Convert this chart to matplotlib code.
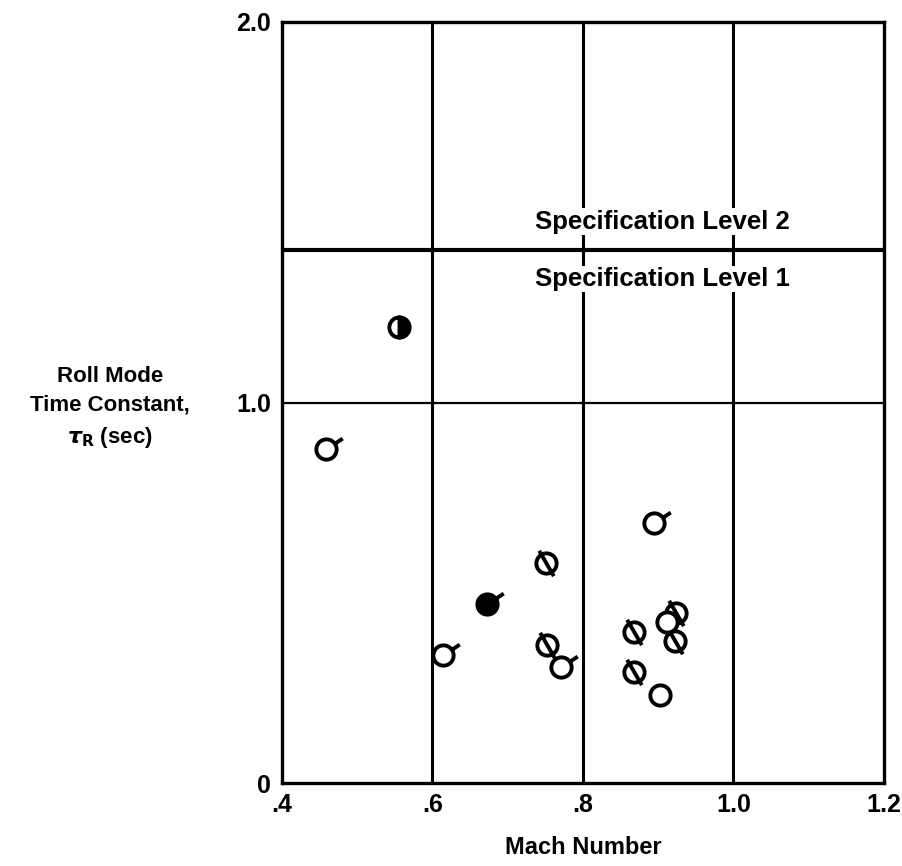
import matplotlib
matplotlib.use('Agg')
import matplotlib.pyplot as plt
from matplotlib.path import Path

plt.rcParams['font.family'] = ['Liberation Sans', 'DejaVu Sans']
plt.rcParams['font.weight'] = 'bold'

# data
flag_x = [0.458, 0.614, 0.771, 0.894]
flag_y = [0.878, 0.336, 0.305, 0.683]
filled_x = [0.672]
filled_y = [0.470]
slash_x = [0.751, 0.752, 0.868, 0.868, 0.924, 0.922]
slash_y = [0.578, 0.363, 0.397, 0.292, 0.447, 0.373]
plain_x = [0.902, 0.912]
plain_y = [0.231, 0.423]
half_x = [0.555]
half_y = [1.198]
spec_level = 1.4

xticks = [0.4, 0.6, 0.8, 1.0, 1.2]
xlabels = ['.4', '.6', '.8', '1.0', '1.2']
yticks = [0, 1.0, 2.0]
ylabels = ['0', '1.0', '2.0']

# markers: circle with a flag, circle with a slash
circ = Path.unit_circle()
flag_path = Path.make_compound_path(circ, Path([(0.83, 0.56), (1.6, 1.08)]))
slash_path = Path.make_compound_path(circ, Path([(-0.72, 1.25), (0.72, -1.25)]))

fig = plt.figure(figsize=(9.02, 8.66), dpi=100)
ax = fig.add_axes([0.3126, 0.0958, 0.6674, 0.8788])
ax.set_xlim(0.4, 1.2)
ax.set_ylim(0, 2.0)

for x in [0.6, 0.8, 1.0]:
    ax.axvline(x, color='black', lw=2.2, zorder=1)
ax.axhline(1.0, color='black', lw=1.6, zorder=1)
ax.axhline(spec_level, color='black', lw=3.0, zorder=1)

ax.text(0.906, spec_level + 0.075, 'Specification Level 2', ha='center', va='center',
        fontsize=18.5, bbox=dict(facecolor='white', edgecolor='none', pad=1), zorder=2)
ax.text(0.906, spec_level - 0.075, 'Specification Level 1', ha='center', va='center',
        fontsize=18.5, bbox=dict(facecolor='white', edgecolor='none', pad=1), zorder=2)

r = 7.3  # circle radius in points
ax.plot(flag_x, flag_y, ls='none', marker=flag_path, ms=r * 2 * 1.6,
        mfc='white', mec='black', mew=2.8, zorder=3)
ax.plot(filled_x, filled_y, ls='none', marker=flag_path, ms=r * 2 * 1.6,
        mfc='black', mec='black', mew=2.8, zorder=3)
ax.plot(slash_x, slash_y, ls='none', marker=slash_path, ms=r * 2 * 1.25,
        mfc='white', mec='black', mew=2.8, zorder=3)
ax.plot(plain_x, plain_y, ls='none', marker='o', ms=r * 2,
        mfc='white', mec='black', mew=2.8, zorder=4)
ax.plot(half_x, half_y, ls='none', marker='o', ms=r * 2, fillstyle='right',
        mfc='black', mfcalt='white', mec='black', mew=2.8, zorder=3)

ax.set_xticks(xticks)
ax.set_xticklabels(xlabels, fontsize=18)
ax.set_yticks(yticks)
ax.set_yticklabels(ylabels, fontsize=18)
ax.tick_params(axis='x', length=0, pad=7)
ax.tick_params(axis='y', length=0, pad=8)
for s in ax.spines.values():
    s.set_linewidth(2.4)

ax.set_xlabel('Mach Number', fontsize=17, fontweight='bold', labelpad=14)
fig.text(0.122, 0.529, 'Roll Mode\nTime Constant,\n' + r'$\tau_{\rm R}$ (sec)',
         ha='center', va='center', fontsize=16, linespacing=1.5)

plt.savefig('out.png', dpi=100)
